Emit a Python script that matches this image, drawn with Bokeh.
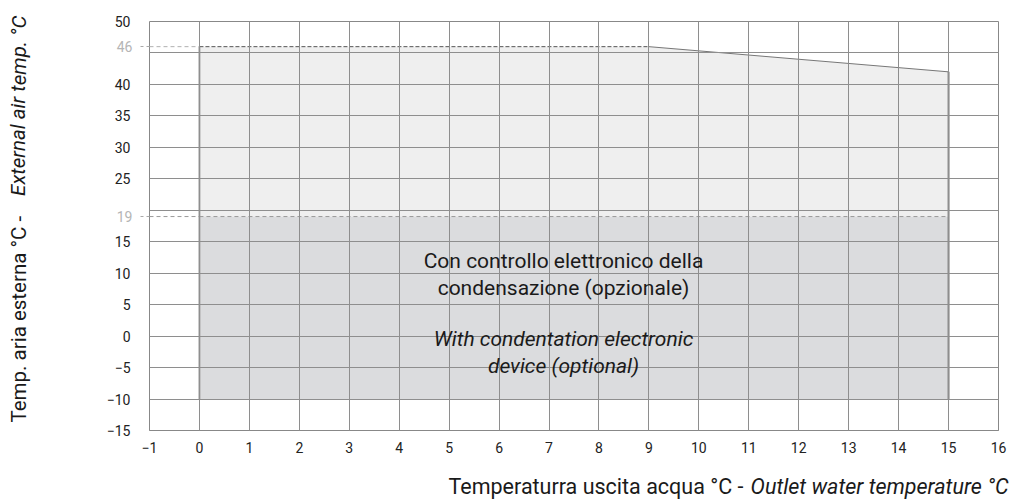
from bokeh.plotting import figure
from bokeh.models import FixedTicker, Label, Range1d, LinearAxis
from bokeh.layouts import row, column
from bokeh.core.properties import value
from bokeh.embed import file_html
from bokeh.resources import INLINE

# ---- data ----
x_ticks = list(range(-1, 17))
y_label_ticks = [-15, -10, -5, 0, 5, 10, 15, 25, 30, 35, 40, 50]
y_grid_ticks = list(range(-15, 55, 5))
special_y = [46, 19]

# operating envelope (standard)
env_x = [0, 0, 9, 15, 15]
env_y = [19, 46, 46, 42, 19]
# envelope with electronic condensation control
ecd_x0, ecd_x1 = 0, 15
ecd_y0, ecd_y1 = -10, 19

mid_lines = ["Con controllo elettronico della", "condensazione (opzionale)",
             "With condentation electronic", "device (optional)"]
x_title = ["Temperaturra uscita acqua °C - ", "Outlet water temperature °C"]
y_title = ["Temp. aria esterna °C - ", "External air temp.  °C"]

FONT = "Roboto"
TXT = "#1a1a1a"


def strip(w, h):
    s = figure(width=w, height=h, x_range=Range1d(0, w), y_range=Range1d(0, h),
               output_backend="svg", toolbar_location=None, title=None,
               x_axis_location=None, y_axis_location=None,
               min_border=0, min_border_left=0, min_border_right=0,
               min_border_top=0, min_border_bottom=0)
    s.frame_align = False
    s.outline_line_color = None
    s.grid.visible = False
    s.background_fill_color = "white"
    s.border_fill_color = "white"
    return s


# ---- main chart ----
p = figure(width=974, height=460, x_range=Range1d(-1, 16), y_range=Range1d(-15, 50),
           output_backend="svg", toolbar_location=None, title=None,
           y_axis_location=None,
           min_border_left=113, min_border_right=12, min_border_top=21, min_border_bottom=30)
p.frame_align = False
p.background_fill_color = "white"
p.border_fill_color = "white"
p.outline_line_color = "#888888"

# fills
p.patch(env_x, env_y, fill_color="#efefef", line_color=None)
p.quad(left=[ecd_x0], right=[ecd_x1], bottom=[ecd_y0], top=[ecd_y1],
       fill_color="#dbdcde", line_color=None)

# grid
p.xaxis.ticker = FixedTicker(ticks=x_ticks)
p.ygrid.ticker = FixedTicker(ticks=y_grid_ticks)
p.xgrid.ticker = FixedTicker(ticks=x_ticks)
for g in (p.xgrid, p.ygrid):
    g.level = "annotation"
    g.grid_line_color = "#8e8e8e"
    g.grid_line_width = 1

# edges
p.line([env_x[1], env_x[2]], [env_y[1], env_y[2]], line_color="#555555", line_dash="4 2",
       line_width=1, level="annotation")
p.line([env_x[2], env_x[3]], [env_y[2], env_y[3]], line_color="#777777", line_width=1,
       level="annotation")
p.line([ecd_x1, ecd_x1], [ecd_y0, env_y[3]], line_color="#6a6a6a", line_width=1.8,
       level="annotation")
p.line([ecd_x0, ecd_x0], [ecd_y0, env_y[1]], line_color="#a5a5a5", line_width=2,
       level="annotation")
p.line([ecd_x0, ecd_x1], [special_y[1], special_y[1]], line_color="#9a9a9a",
       line_dash="4 3", line_width=1, level="annotation")
p.line([x_ticks[0], ecd_x0], [special_y[0], special_y[0]], line_color="#b0b0b0",
       line_dash="4 3", line_width=1, level="annotation")
p.line([x_ticks[0], ecd_x0], [special_y[1], special_y[1]], line_color="#9a9a9a",
       line_dash="4 3", line_width=1, level="annotation")

# y axes: nearest one carries the light 46 / 19 marks, outer one the regular labels
ax_sp = LinearAxis(ticker=FixedTicker(ticks=special_y))
ax_sp.axis_line_color = None
ax_sp.major_tick_out = 9
ax_sp.major_tick_in = 0
ax_sp.minor_tick_out = 0
ax_sp.minor_tick_in = 0
ax_sp.major_tick_line_color = "#a8a8a8"
ax_sp.major_tick_line_dash = "3 3"
ax_sp.major_label_standoff = 8
ax_sp.major_label_text_font = FONT
ax_sp.major_label_text_font_size = "14px"
ax_sp.major_label_text_color = "#b5b5b5"
p.add_layout(ax_sp, "left")

ax_y = LinearAxis(ticker=FixedTicker(ticks=y_label_ticks))
ax_y.axis_line_color = None
ax_y.major_tick_out = 0
ax_y.major_tick_in = 0
ax_y.minor_tick_out = 0
ax_y.minor_tick_in = 0
ax_y.major_label_standoff = -17
ax_y.major_label_text_font = FONT
ax_y.major_label_text_font_size = "14px"
ax_y.major_label_text_color = "#222222"
p.add_layout(ax_y, "left")

xa = p.xaxis[0]
xa.axis_line_color = "#888888"
xa.major_tick_out = 0
xa.major_tick_in = 0
xa.minor_tick_out = 0
xa.minor_tick_in = 0
xa.major_label_text_font = FONT
xa.major_label_text_font_size = "14px"
xa.major_label_text_color = "#222222"
xa.major_label_standoff = 11

# middle text
mid_x = 7.29
mid_y = [12.0, 7.7, -0.4, -4.7]
mid_style = ["normal", "normal", "italic", "italic"]
for t, yy, st in zip(mid_lines, mid_y, mid_style):
    p.add_layout(Label(x=mid_x, y=yy, text=t, text_align="center", text_baseline="middle",
                       text_font=FONT, text_font_size="21px", text_font_style=st,
                       text_color=TXT))

# ---- y title strip ----
ls = strip(36, 460)
ls.text(x=[18], y=[460 - 422], text=[y_title[0]], angle=1.5707963, text_align="left",
        text_baseline="middle", text_font=value(FONT), text_font_size="20.5px",
        text_color=TXT)
ls.text(x=[18], y=[460 - 10], text=[y_title[1]], angle=1.5707963, text_align="right",
        text_baseline="middle", text_font=value(FONT), text_font_size="20.5px",
        text_font_style="italic", text_color=TXT)

# ---- x title strip ----
bs = strip(1010, 40)
bs.text(x=[448], y=[14], text=[x_title[0]], text_align="left", text_baseline="middle",
        text_font=value(FONT), text_font_size="21.5px", text_color=TXT)
bs.text(x=[1008], y=[14], text=[x_title[1]], text_align="right", text_baseline="middle",
        text_font=value(FONT), text_font_size="21.5px", text_font_style="italic",
        text_color=TXT)

layout = column(row(ls, p, spacing=0), bs, spacing=0)
open("out.html", "w").write(file_html(layout, INLINE))
